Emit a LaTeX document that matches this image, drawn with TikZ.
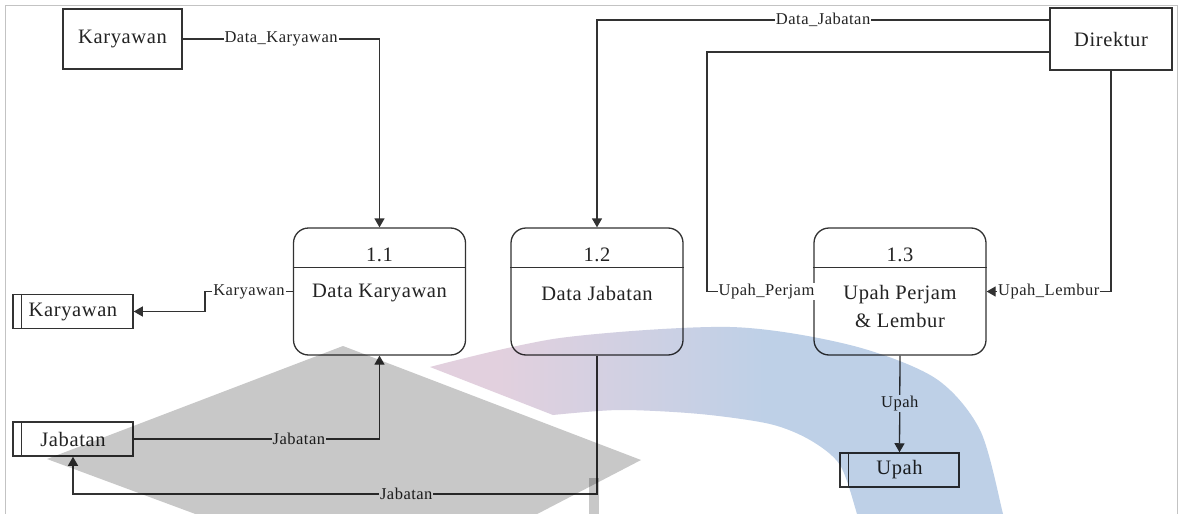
\documentclass[tikz,border=0pt]{standalone}
\usepackage{fontspec}
\setmainfont[LetterSpace=3]{Liberation Serif}
\usetikzlibrary{arrows.meta}
\definecolor{ink}{RGB}{35,35,35}
\definecolor{linec}{RGB}{50,50,50}
\definecolor{wmgray}{RGB}{200,200,200}
\definecolor{wmpink}{RGB}{226,208,222}
\definecolor{wmblue}{RGB}{190,208,231}
\definecolor{framegray}{RGB}{195,195,195}
\pgfdeclarehorizontalshading{pinkblue}{100bp}{color(0bp)=(wmpink); color(31bp)=(wmpink); color(54bp)=(wmblue); color(100bp)=(wmblue)}
\tikzset{
  entity/.style={draw=linec, line width=1.5pt, minimum width=#1, minimum height=60pt, inner sep=0pt, text=ink, font=\fontsize{20.5}{24}\selectfont},
  proc/.style={draw=linec, line width=1.3pt, rounded corners=15pt, minimum width=172pt, minimum height=127pt, inner sep=0pt},
  store/.style={draw=linec, line width=1.5pt, minimum width=#1, minimum height=34pt, inner sep=0pt, text=ink, font=\fontsize{20.5}{24}\selectfont},
  txt/.style={text=ink, inner sep=0pt, align=center, font=\fontsize{20.5}{28}\selectfont},
  flow/.style={draw=linec, line width=1.3pt, -{Triangle[length=9pt,width=10pt]}},
  lbl/.style={fill=white, inner sep=1pt, text=ink, font=\fontsize{16.5}{19}\selectfont}
}
\begin{document}
\begin{tikzpicture}[x=1pt,y=-1pt]
\useasboundingbox (0,0) rectangle (1179,514);
\fill[white] (0,0) rectangle (1179,514);
\draw[framegray, line width=1pt] (5,514) -- (5,5) -- (1177.5,5) -- (1177.5,514);

% external entities
\node[entity=119pt] (ke) at (122.5,39) {Karyawan};
\node[entity=122pt, minimum height=62pt] (dir) at (1111,39) {Direktur};

% processes
\node[proc] (p1) at (379.5,291.5) {};
\node[proc] (p2) at (597,291.5) {};
\node[proc] (p3) at (900,291.5) {};
\foreach \p in {p1,p2,p3}{
  \draw[linec, line width=1.3pt] ([yshift=-40pt]\p.north west) -- ([yshift=-40pt]\p.north east);
}
\node[txt] (p1n) at (379.5,255) {1.1};
\node[txt] (p1t) at (379.5,293) {Data Karyawan};
\node[txt] (p2n) at (597,255) {1.2};
\node[txt] (p2t) at (597,293) {Data Jabatan};
\node[txt] (p3n) at (900,255) {1.3};
\node[txt] (p3t) at (900,306) {Upah Perjam\\\& Lembur};

% data stores
\node[store=120pt] (s1) at (73,311.5) {Karyawan};
\node[store=120pt] (s2) at (73,439) {Jabatan};
\node[store=119pt] (s3) at (899.5,470) {Upah};
\foreach \s in {s1,s2,s3}{
  \draw[linec, line width=1.5pt] ([xshift=9pt]\s.north west) -- ([xshift=9pt]\s.south west);
}

% helper corners
\coordinate (c2) at (707,291.5);
\coordinate (k1) at (205,291.5);
\coordinate (j3) at (73,494);

% flows
\draw[flow] (ke.east) -| node[lbl, pos=0.25] {Data\_Karyawan} (p1.north);
\draw[flow] ([yshift=19pt]dir.west) -| node[lbl, pos=0.25] {Data\_Jabatan} (p2.north);
\draw[flow] ([yshift=-13pt]dir.west) -| (c2) -- node[lbl, pos=0.56] {Upah\_Perjam} (c2 -| p3.west);
\draw[flow] (dir.south) |- node[lbl, pos=0.75] {Upah\_Lembur} (p3.east);
\draw[flow] (p1.west) -- node[lbl] {Karyawan} (k1) |- (s1.east);
\draw[flow] (s2.east) -| node[lbl, pos=0.336] {Jabatan} (p1.south);
\draw[flow] (p2.south) |- node[lbl, pos=0.682] {Jabatan} (j3) -- (s2.south);
\draw[flow] (p3.south) -- node[lbl] {Upah} (s3.north);

% watermark
\begin{scope}[blend mode=multiply]
  \clip (0,0) rectangle (1179,514);
  \fill[wmgray] (343,346) -- (641,460) -- (395,588) -- (47,459) -- cycle;
  \fill[wmgray] (589,478) rectangle (599,514);
  \path[shading=pinkblue]
    plot[smooth] coordinates {(430,367) (560,338) (730,327) (850,345) (935,378) (980,430) (1003,514) (1006,530)}
    -- (860,530)
    -- plot[smooth] coordinates {(860,530) (857,514) (840,465) (810,440) (770,424) (700,414) (620,410) (553,415)}
    -- cycle;
\end{scope}
\end{tikzpicture}
\end{document}
